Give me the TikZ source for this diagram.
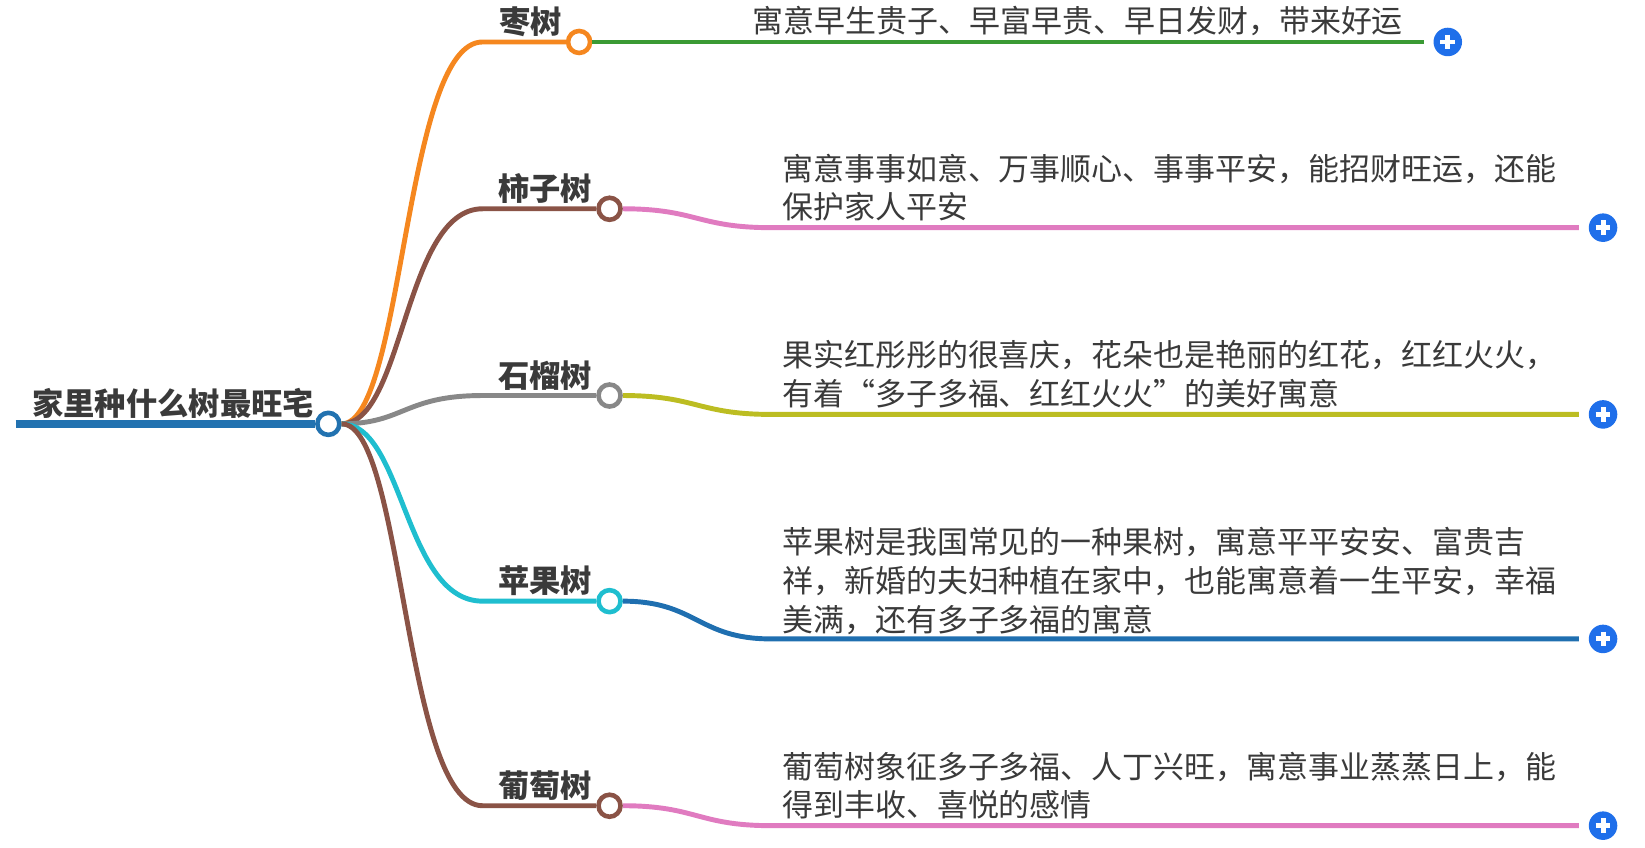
\documentclass[tikz,border=0pt]{standalone}
\usepackage{fontspec}
\setmainfont{Noto Sans CJK SC}
\begin{document}
\begin{tikzpicture}[x=0.01049cm,y=-0.01049cm,
  lbl/.style={font=\bfseries\fontsize{8.9pt}{10pt}\selectfont,text=txt,inner sep=0pt},
  body/.style={font=\fontsize{8.8pt}{11pt}\selectfont,text=txt,inner sep=0pt,align=left,anchor=north west},
  dot/.style={circle,draw=#1,line width=1.3pt,fill=white,minimum size=0.22cm,inner sep=0pt},
  plusb/.style={circle,fill=plusc,minimum size=0.285cm,inner sep=0pt},
  br/.style={line width=1.4pt,draw=#1}]
\definecolor{txt}{HTML}{3A3A3A}
\definecolor{rootc}{HTML}{2272B0}
\definecolor{orc}{HTML}{F5871F}
\definecolor{gr}{HTML}{3A9A34}
\definecolor{brn}{HTML}{8A5346}
\definecolor{pnk}{HTML}{E07BC0}
\definecolor{gry}{HTML}{888888}
\definecolor{olv}{HTML}{BCBD22}
\definecolor{cyn}{HTML}{1FBECF}
\definecolor{blu}{HTML}{1F6FB0}
\definecolor{plusc}{HTML}{1F6FEA}
\useasboundingbox (0,0) rectangle (1568,807.5);
\coordinate (rs) at (15,404);
\node[dot=rootc] (root) at (313,404) {};
\draw[rootc,line width=2.2pt] (rs) -- (root.west);
\node[lbl,anchor=base west] (rt) at (30,396) {家里种什么树最旺宅};
\foreach \n/\y/\cx/\c/\lab in {a/40/552/orc/枣树,b/199/581/brn/柿子树,c/377/581/gry/石榴树,d/573/581/cyn/苹果树,e/768/581/brn/葡萄树}{
  \node[dot=\c] (\n) at (\cx,\y) {};
  \coordinate (\n k) at (460,\y);
  \draw[br=\c] (root.east) .. controls (385,404) and (385,\y) .. (\n k) -- (\n.west);
  \node[lbl,anchor=base east] (\n l) at (\cx-16,\y-8) {\lab};
}
\coordinate (ae) at (1357,40);
\draw[br=gr] (a.east) -- (ae);
\node[body,anchor=base west] (at) at (717,31) {寓意早生贵子、早富早贵、早日发财，带来好运};
\node[plusb] (ap) at (1380,40) {};
\foreach \n/\y/\c in {b/217/pnk,c/395/olv,d/609/blu,e/787/pnk}{
  \coordinate (\n m) at (735,\y);
  \coordinate (\n z) at (1505,\y);
  \node[plusb] (\n p) at (1528,\y) {};
  \draw[br=\c] (\n.east) .. controls +(70,0) and +(-70,0) .. (\n m) -- (\n z);
}
\foreach \n in {a,b,c,d,e}{
  \draw[white,line width=1.4pt] (\n p.center) +(-7,0) -- +(7,0) (\n p.center) +(0,-7) -- +(0,7);
}
\node[body] (bt) at (745,146) {寓意事事如意、万事顺心、事事平安，能招财旺运，还能\\保护家人平安};
\node[body] (ct) at (745,324) {果实红彤彤的很喜庆，花朵也是艳丽的红花，红红火火，\\有着“多子多福、红红火火”的美好寓意};
\node[body] (dt) at (745,502) {苹果树是我国常见的一种果树，寓意平平安安、富贵吉\\祥，新婚的夫妇种植在家中，也能寓意着一生平安，幸福\\美满，还有多子多福的寓意};
\node[body] (et) at (745,716) {葡萄树象征多子多福、人丁兴旺，寓意事业蒸蒸日上，能\\得到丰收、喜悦的感情};
\end{tikzpicture}
\end{document}
